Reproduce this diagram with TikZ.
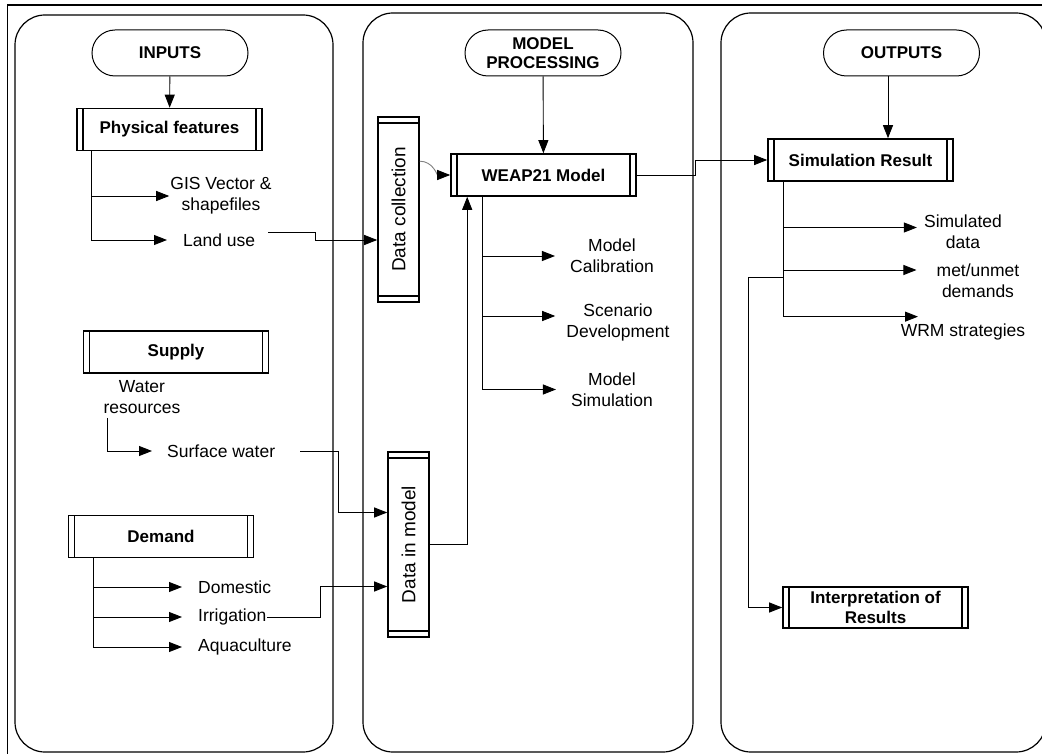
\documentclass[tikz,border=0pt]{standalone}
\usepackage{fontspec}
\setmainfont{Liberation Sans}
\usetikzlibrary{arrows.meta,positioning}

\begin{document}
\begin{tikzpicture}[x=1pt, y=-1pt,
  lane/.style={draw, line width=1.2pt, rounded corners=30pt},
  pill/.style={draw, line width=1pt, rounded corners=23pt, minimum width=156pt,
               minimum height=46pt, align=center,
               font=\fontsize{17}{19}\selectfont\bfseries},
  hproc/.style={draw, line width=1.6pt, minimum width=185pt, minimum height=42pt,
                inner sep=2pt, align=center,
                font=\fontsize{17}{20}\selectfont\bfseries,
                path picture={\draw[line width=1.1pt]
                  ([xshift=6pt]path picture bounding box.north west) -- ([xshift=6pt]path picture bounding box.south west)
                  ([xshift=-6pt]path picture bounding box.north east) -- ([xshift=-6pt]path picture bounding box.south east);}},
  vproc/.style={draw, line width=1.6pt, minimum width=41pt, minimum height=185pt,
                inner sep=2pt, font=\fontsize{19}{20}\selectfont,
                path picture={\draw[line width=1.1pt]
                  ([yshift=-6pt]path picture bounding box.north west) -- ([yshift=-6pt]path picture bounding box.north east)
                  ([yshift=6pt]path picture bounding box.south west) -- ([yshift=6pt]path picture bounding box.south east);}},
  lbl/.style={font=\fontsize{17.5}{21}\selectfont, align=center, inner sep=1pt},
  arr/.style={-{Triangle[length=13pt,width=10pt]}, line width=0.9pt},
  soft/.style={-{Triangle[length=13pt,width=10pt,color=black]}, line width=0.9pt, gray},
]
  \useasboundingbox (0,0) rectangle (1042,754);

  % --- frame and lanes ---
  \draw[line width=1.5pt] (7.5,754) -- (7.5,5) -- (1042,5);
  \draw[lane] (15,15)  rectangle (333,752);
  \draw[lane] (363,13) rectangle (693,752);
  \draw[lane] (721,13) rectangle (1046,752);

  % --- Inputs ---
  \node[pill] (inputs) at (170,53) {INPUTS};
  \node[hproc] (phys) at (169.5,129.5) {Physical features};
  \node[lbl] (gis) at (221,196) {GIS Vector \&\\shapefiles};
  \node[lbl, anchor=west] (land) at (182,240) {Land use};
  \draw[arr] (inputs) -- (phys);
  \draw[arr] ([xshift=15pt]phys.south west) |- (gis.west);
  \draw[arr] ([xshift=15pt]phys.south west) |- ([xshift=-15pt]land.west);

  \node[hproc] (supply) at (176,352) {Supply};
  \node[lbl] (wres) at (142,397) {Water\\resources};
  \node[lbl, anchor=west] (surf) at (166,451) {Surface water};
  \draw[arr] ([xshift=-35pt,yshift=-3pt]wres.south) |- ([xshift=-14pt]surf.west);

  \node[hproc] (demand) at (161,536.5) {Demand};
  \node[lbl, anchor=west] (dom)  at (197,587) {Domestic};
  \node[lbl, anchor=west] (irr)  at (197,617) {Irrigation};
  \node[lbl, anchor=west] (aqua) at (197,647) {Aquaculture};
  \foreach \n in {dom,irr,aqua}
    \draw[arr] ([xshift=-68pt]demand.south) |- ([xshift=-15pt]\n.west);

  % --- Model processing ---
  \node[pill] (mproc) at (543,53) {MODEL\\PROCESSING};
  \node[hproc] (weap) at (543.5,175) {WEAP21 Model};
  \node[vproc] (dcol) at (398.5,209.5) {\rotatebox{90}{Data collection}};
  \node[vproc] (dmod) at (408.5,544.5) {\rotatebox{90}{Data in model}};
  \node[lbl] (cal)  at (612,256) {Model\\Calibration};
  \node[lbl] (scen) at (618,322) {Scenario\\Development};
  \node[lbl] (msim) at (612,389.5) {Model\\Simulation};

  \draw[arr] (mproc) -- (weap);
  \draw[soft] ([yshift=-45pt]dcol.north east) to[out=0, in=180] (weap.west);
  \draw[arr] ([xshift=12pt]land.north east) -- ++(47,0) |- (dcol.west |- land);
  \draw[arr] ([xshift=24pt]surf.east) -- ++(38,0) |- ([yshift=32pt]dmod.west);
  \draw[arr] (irr.east) -- ++(53,0) |- ([yshift=-42pt]dmod.west);
  \draw[arr] (dmod.east) -| ([xshift=17pt]weap.south west);
  \draw[arr] ([xshift=32pt]weap.south west) |- ([xshift=-14pt]cal.west);
  \draw[arr] ([xshift=32pt]weap.south west) |- ([xshift=-10pt,yshift=6pt]scen.west);
  \draw[arr] ([xshift=32pt]weap.south west) |- ([xshift=-14pt]msim.west);

  % --- Outputs ---
  \node[pill] (outputs) at (901.5,53) {OUTPUTS};
  \node[hproc] (simres) at (860.5,160) {Simulation Result};
  \node[lbl] (simd) at (963,231.5) {Simulated\\data};
  \node[lbl] (met)  at (978,281) {met/unmet\\demands};
  \node[lbl] (wrm)  at (963,332) {WRM strategies};
  \node[hproc, minimum height=41pt] (interp) at (875.5,607.5) {Interpretation of\\Results};

  \draw[arr] ([xshift=-13.5pt]outputs.south) -- ([xshift=27.5pt]simres.north);
  \draw[arr] (weap.east) -- ++(59,0) |- (simres.west);
  \draw[arr] ([xshift=16pt]simres.south west) |- ([xshift=-6pt,yshift=4pt]simd.west);
  \draw[arr] ([xshift=16pt]simres.south west) |- ([xshift=-19pt,yshift=11pt]met.west);
  \draw[arr] ([xshift=16pt]simres.south west) |- ([xshift=-45pt,yshift=6pt]wrm.north);
  \draw[arr] ([xshift=16pt,yshift=-96pt]simres.south west) -- ++(-35,0) |- (interp.west);
\end{tikzpicture}
\end{document}
